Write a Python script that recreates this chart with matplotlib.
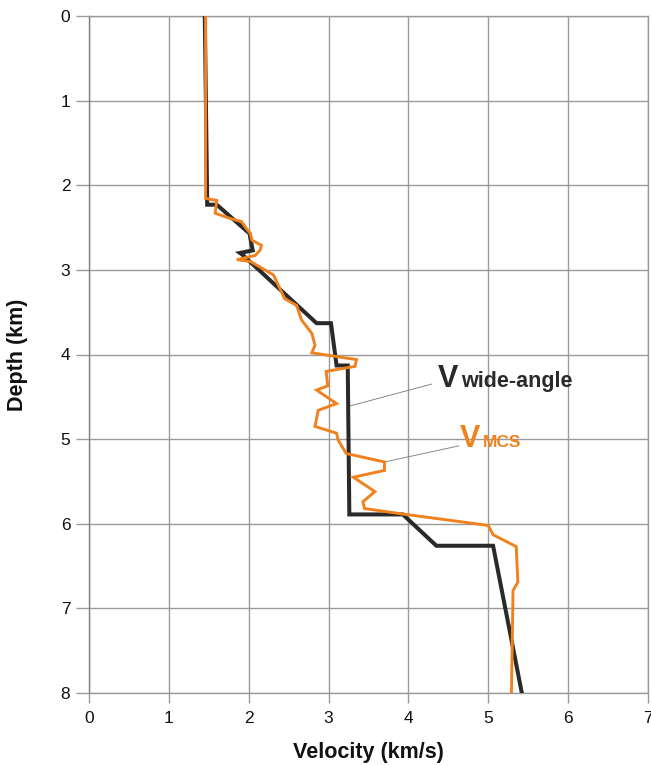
import matplotlib
matplotlib.use("Agg")
import matplotlib.pyplot as plt

plt.rcParams['font.family'] = ['Liberation Sans', 'DejaVu Sans']

# Wide-angle velocity model (velocity km/s, depth km)
wa_vel = [1.45, 1.48, 1.48, 1.60, 2.01, 2.05, 1.89, 1.92, 2.85, 3.03, 3.10, 3.24, 3.26, 3.93, 4.35, 5.06, 5.42]
wa_depth = [0.0, 2.20, 2.23, 2.23, 2.57, 2.77, 2.80, 2.82, 3.63, 3.63, 4.13, 4.13, 5.89, 5.89, 6.26, 6.26, 8.0]

# MCS velocity profile
mcs_vel = [1.46, 1.46, 1.60, 1.58, 1.76, 1.91, 1.97, 2.02, 2.04, 2.16, 2.14, 2.08, 1.85, 2.02,
           2.31, 2.35, 2.45, 2.60, 2.66, 2.79, 2.83, 2.79, 3.35, 3.33, 2.97, 2.99, 2.85, 3.10,
           2.87, 2.83, 3.10, 3.12, 3.22, 3.70, 3.70, 3.31, 3.58, 3.43, 3.45, 3.89, 5.00, 5.06,
           5.35, 5.37, 5.31, 5.29]
mcs_depth = [0.0, 2.155, 2.18, 2.33, 2.39, 2.43, 2.51, 2.57, 2.65, 2.71, 2.77, 2.83, 2.88, 2.90,
             3.06, 3.14, 3.34, 3.42, 3.59, 3.75, 3.89, 3.98, 4.06, 4.14, 4.20, 4.37, 4.42, 4.58,
             4.66, 4.85, 4.93, 5.01, 5.17, 5.27, 5.37, 5.45, 5.62, 5.74, 5.82, 5.88, 6.02, 6.13,
             6.27, 6.69, 6.79, 8.0]

x_ticks = [0, 1, 2, 3, 4, 5, 6, 7]
y_ticks = [0, 1, 2, 3, 4, 5, 6, 7, 8]

BLACK = '#2a2a2a'
ORANGE = '#f0821e'
GRID = '#9a9a9a'

fig = plt.figure(figsize=(6.51, 7.65), dpi=100)
ax = fig.add_axes([89 / 651, 1 - 693 / 765, 559 / 651, 677 / 765])

ax.plot(wa_vel, wa_depth, color=BLACK, lw=2.9, solid_joinstyle='miter', zorder=3)
ax.plot(mcs_vel, mcs_depth, color=ORANGE, lw=2.1, solid_joinstyle='miter', zorder=4)

ax.set_xlim(0, 7)
ax.set_ylim(8, 0)
ax.set_xticks(x_ticks)
ax.set_yticks(y_ticks)
ax.grid(True, color=GRID, lw=1.0)
ax.set_axisbelow(True)
for s in ax.spines.values():
    s.set_color(GRID)
    s.set_linewidth(1.0)
ax.spines['left'].set_color('#808080')
ax.tick_params(colors=GRID, width=1.0, labelcolor='#111111', labelsize=12.5)
ax.tick_params(axis='y', length=9.5, pad=4)
ax.tick_params(axis='x', length=7, pad=6)

ax.set_xlabel('Velocity (km/s)', fontsize=15.5, fontweight='bold', color='#111111')
ax.set_ylabel('Depth (km)', fontsize=15.5, fontweight='bold', color='#111111')
ax.xaxis.set_label_coords(0.5, -0.072)
ax.yaxis.set_label_coords(-0.109, 0.5)

# Curve annotations with leader lines
ax.plot([3.26, 4.29], [4.61, 4.35], color='#888888', lw=0.7, zorder=2)
ax.text(4.37, 4.385, 'V', fontsize=22, fontweight='bold', color=BLACK, va='baseline', ha='left')
ax.text(4.66, 4.385, 'wide-angle', fontsize=15.5, fontweight='bold', color=BLACK, va='baseline', ha='left')
ax.plot([3.70, 4.63], [5.27, 5.08], color='#888888', lw=0.7, zorder=2)
ax.text(4.64, 5.095, 'V', fontsize=22, fontweight='bold', color=ORANGE, va='baseline', ha='left')
ax.text(4.93, 5.095, 'MCS', fontsize=12.5, fontweight='bold', color=ORANGE, va='baseline', ha='left')

fig.savefig('out.png', dpi=100)
